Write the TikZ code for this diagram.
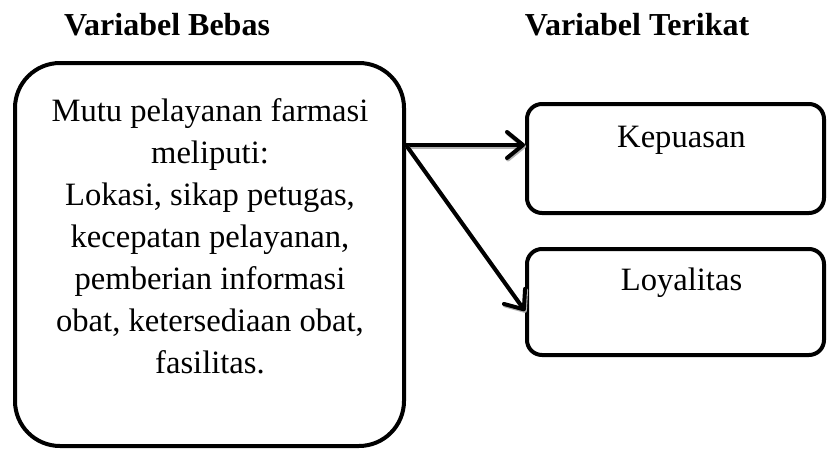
\documentclass[tikz,border=0pt]{standalone}
\usepackage{fontspec}
\setmainfont{Liberation Serif}
\usetikzlibrary{positioning,arrows.meta}

\tikzset{
  varbox/.style={draw, line width=4pt, rounded corners=#1},
  vartext/.style={font=\fontsize{32.6}{42}\selectfont, align=center},
  vartitle/.style={font=\fontsize{32}{36}\selectfont\bfseries},
  barbtip/.style={-{Straight Barb[length=16pt, width=26pt, line width=4pt, round]}},
  link/.style={line width=4pt, barbtip,
    preaction={draw=gray!60, line width=4pt, barbtip,
      transform canvas={shift={(1pt,-1.5pt)}}}},
}

\begin{document}
\begin{tikzpicture}[x=1pt, y=-1pt]
  \useasboundingbox (0,0) rectangle (828,450);

  \node[varbox=45pt, minimum width=389pt, minimum height=383pt] (bebas) at (209.5,254.5) {};
  \node[varbox=15pt, minimum width=297pt, minimum height=109pt] (kepuasan) at (675.5,158.5) {};
  \node[varbox=15pt, minimum width=297pt, minimum height=106pt, below=32pt of kepuasan] (loyalitas) {};

  \node[vartitle] (titlebebas) at (167,25) {Variabel Bebas};
  \node[vartitle] (titleterikat) at (637,25) {Variabel Terikat};

  \node[vartext] (bebaslabel) at (210,236) {Mutu pelayanan farmasi\\ meliputi:\\ Lokasi, sikap petugas,\\ kecepatan pelayanan,\\ pemberian informasi\\ obat, ketersediaan obat,\\ fasilitas.};
  \node[vartext] (kepuasanlabel) at ([xshift=6pt, yshift=-38pt]kepuasan.north) {Kepuasan};
  \node[vartext] (loyalitaslabel) at ([xshift=6pt, yshift=-36pt]loyalitas.north) {Loyalitas};

  \coordinate (fork) at ([yshift=13.5pt]kepuasan.west -| bebas.east);
  \draw[link] (fork) -- ([yshift=13.5pt]kepuasan.west);
  \draw[link] (fork) -- ([yshift=-9pt]loyalitas.west);
\end{tikzpicture}
\end{document}
